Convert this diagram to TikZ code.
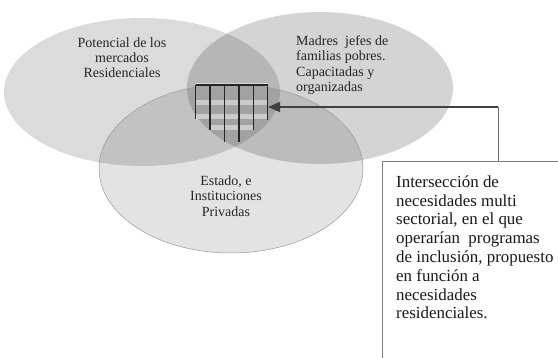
\documentclass[tikz,border=0pt]{standalone}
\usepackage{fontspec}
\setmainfont{Liberation Serif}
\usetikzlibrary{arrows.meta}
\begin{document}
\begin{tikzpicture}[x=1pt,y=-1pt,
  lbl/.style={font=\fontsize{14}{15.4}\selectfont, inner sep=0pt, text=black!85},
  boxtxt/.style={font=\fontsize{16.9}{18.8}\selectfont, inner sep=0pt, align=left, text=black!90},
  gridline/.style={draw=black!85, line width=1.3pt},
  band/.style={fill=white, fill opacity=0.45},
  frame/.style={draw=black!50, line width=0.8pt, inner sep=0pt},
  conn/.style={draw=black!55, line width=0.8pt},
  arrowline/.style={draw=black!75, line width=1.2pt, -{Triangle[length=12pt,width=10pt]}}]
\useasboundingbox (0,0) rectangle (558,358);
\clip (0,0) rectangle (558,358);
\fill[white] (0,0) rectangle (558,358);
% circles
\fill[black, fill opacity=0.14] (142,92) ellipse [x radius=138, y radius=74];
\fill[black, fill opacity=0.17] (320,88) ellipse [x radius=133, y radius=76];
\filldraw[fill=black, fill opacity=0.11, draw=black!40, line width=0.5pt] (231,168.5) ellipse [x radius=132, y radius=84.5];
% table
\fill[band] (195.7,83) rectangle (267.7,86);
\fill[band] (195.7,100) rectangle (267.7,105);
\fill[band] (195.7,114) rectangle (267.7,119);
\fill[band] (210,125) rectangle (253.3,130);
\draw[gridline] (195.7,85) -- (267.7,85);
\foreach \gx/\gy in {195.7/119, 210/130, 224.5/142, 239/142, 253.3/130, 267.7/120}
  \draw[gridline] (\gx,85) -- (\gx,\gy);
% labels
\node[lbl, align=center, anchor=north] (mercados) at (122,37.1) {Potencial de los\\mercados\\Residenciales};
\node[lbl, align=left, anchor=north west] (madres) at (296,35.4) {Madres\ \ jefes de\\familias pobres.\\Capacitadas y\\organizadas};
\node[lbl, align=center, anchor=north] (estado) at (226,175.4) {Estado, e\\Instituciones\\Privadas};
% callout box
\node[frame, anchor=north west, minimum width=220pt, minimum height=230pt] (box) at (382,161) {};
\node[boxtxt, anchor=north west] (boxtext) at (396,175.4) {Intersección de\\necesidades multi\\sectorial, en el que\\operarían\ \ programas\\de inclusión, propuesto\\en función a\\necesidades\\residenciales.};
\coordinate (tip) at (268,107);
\coordinate (bend) at (498,107);
\draw[conn] (box.north -| bend) -- (bend);
\draw[arrowline] (bend) -- (tip);
\end{tikzpicture}
\end{document}
